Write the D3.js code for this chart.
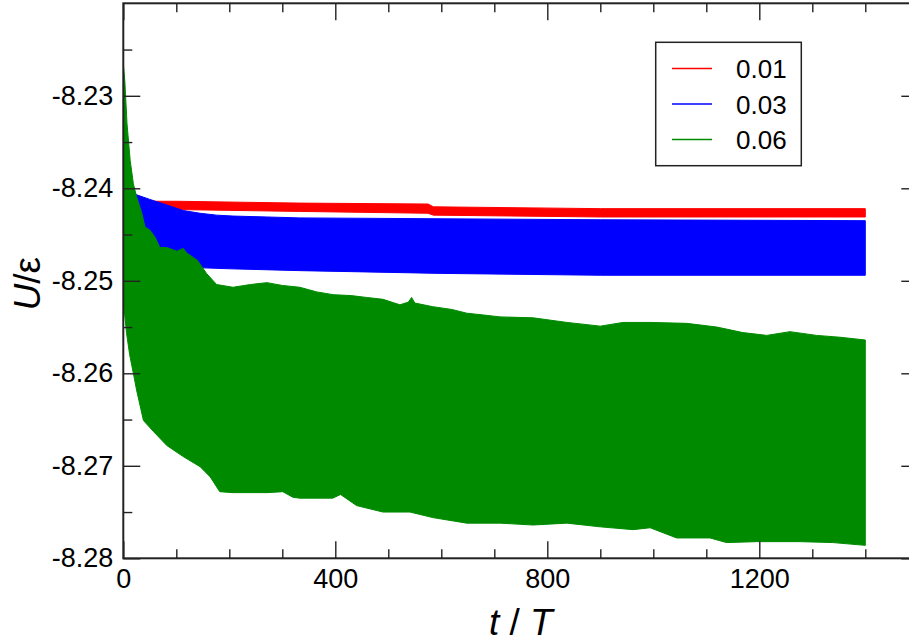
<!DOCTYPE html>
<html>
<head>
<meta charset="utf-8">
<script src="https://cdn.jsdelivr.net/npm/d3@7"></script>
<style>
  html, body { margin: 0; padding: 0; background: #fff; }
  svg { display: block; }
</style>
</head>
<body>
<svg id="chart" width="909" height="644"></svg>
<script>
// ---------------- data ----------------
const seriesNames = ["0.01", "0.03", "0.06"];
const seriesColors = ["#ff0000", "#0000ff", "#008a00"];

// x tick labels / y tick labels
const xMajorTicks = [0, 400, 800, 1200];
const xMinorTicks = [100, 200, 300, 500, 600, 700, 900, 1000, 1100, 1300, 1400];
const yMajorTicks = [-8.28, -8.27, -8.26, -8.25, -8.24, -8.23];
const yMinorTicks = [-8.275, -8.265, -8.255, -8.245, -8.235, -8.225];

// 0.01 : upper / lower envelope of the oscillating energy
const redUpperT = [40, 100, 333, 575, 585, 900, 1400];
const redUpperU = [-8.2414, -8.2414, -8.2416, -8.2417, -8.2420, -8.2422, -8.2422];
const redLowerT = [40, 100, 333, 575, 585, 900, 1400];
const redLowerU = [-8.2422, -8.2423, -8.2425, -8.2427, -8.2429, -8.2431, -8.2431];

// 0.03
const blueUpperT = [22, 25, 50, 82, 113, 145, 176, 207, 271, 333, 900, 1400];
const blueUpperU = [-8.2405, -8.2407, -8.2412, -8.2418, -8.2424, -8.2427, -8.2429, -8.2430, -8.2431, -8.2432, -8.2434, -8.2435];
const blueLowerT = [22, 40, 60, 100, 150, 200, 333, 600, 900, 1400];
const blueLowerU = [-8.2420, -8.2455, -8.2472, -8.2481, -8.2486, -8.2487, -8.2489, -8.2492, -8.2494, -8.2494];

// 0.06
const greenUpperT = [0, 3, 7, 13, 19, 25, 35, 41, 50, 60, 69, 82, 101, 113, 120, 140, 157, 176, 207, 240, 271, 300, 333, 365, 396, 430, 459, 490, 522, 538, 544, 550, 584, 620, 648, 680, 711, 773, 837, 900, 943, 994, 1063, 1120, 1169, 1214, 1258, 1308, 1352, 1400];
const greenUpperU = [-8.2265, -8.2285, -8.2330, -8.2370, -8.2395, -8.2409, -8.2427, -8.2442, -8.2445, -8.2453, -8.2464, -8.2464, -8.2468, -8.2465, -8.2470, -8.2478, -8.2492, -8.2504, -8.2507, -8.2504, -8.2502, -8.2505, -8.2507, -8.2512, -8.2515, -8.2516, -8.2518, -8.2520, -8.2526, -8.2523, -8.2518, -8.2524, -8.2528, -8.2531, -8.2535, -8.2537, -8.2539, -8.2540, -8.2545, -8.2549, -8.2545, -8.2545, -8.2546, -8.2550, -8.2556, -8.2559, -8.2555, -8.2559, -8.2561, -8.2564];
const greenLowerT = [0, 6, 12, 19, 25, 38, 57, 82, 113, 145, 164, 182, 207, 271, 301, 320, 333, 395, 410, 425, 440, 490, 541, 584, 648, 711, 773, 837, 900, 962, 994, 1044, 1107, 1138, 1195, 1277, 1339, 1400];
const greenLowerU = [-8.2521, -8.2556, -8.2580, -8.2600, -8.2618, -8.2651, -8.2663, -8.2678, -8.2690, -8.2701, -8.2712, -8.2728, -8.2729, -8.2729, -8.2728, -8.2734, -8.2735, -8.2735, -8.2731, -8.2737, -8.2743, -8.2750, -8.2750, -8.2756, -8.2762, -8.2762, -8.2764, -8.2762, -8.2766, -8.2769, -8.2767, -8.2778, -8.2778, -8.2783, -8.2782, -8.2782, -8.2783, -8.2786];

// ---------------- font ----------------
const FONT = `"Liberation Sans", Arial, sans-serif`;

// ---------------- chart ----------------
const svg = d3.select("#chart");
const x = d3.scaleLinear().domain([0, 1500]).range([123.3, 918.3]);
const y = d3.scaleLinear().domain([-8.28, -8.22]).range([558.3, 3.3]);

svg.append("defs").append("clipPath").attr("id", "plotclip")
  .append("rect").attr("x", x(0)).attr("y", y(-8.22))
  .attr("width", x(1500) - x(0)).attr("height", y(-8.28) - y(-8.22));

const zip = (ts, us) => ts.map((t, i) => [t, us[i]]);
const bands = [
  { upper: zip(redUpperT, redUpperU), lower: zip(redLowerT, redLowerU) },
  { upper: zip(blueUpperT, blueUpperU), lower: zip(blueLowerT, blueLowerU) },
  { upper: zip(greenUpperT, greenUpperU), lower: zip(greenLowerT, greenLowerU) }
];

const line = d3.line().x(d => x(d[0])).y(d => y(d[1]));
const plot = svg.append("g").attr("clip-path", "url(#plotclip)");
bands.forEach((b, i) => {
  const pts = b.upper.concat(b.lower.slice().reverse());
  plot.append("path")
    .attr("d", line(pts) + "Z")
    .attr("fill", seriesColors[i])
    .attr("stroke", seriesColors[i])
    .attr("stroke-width", 1);
});

// axes
const tickColor = "#222";
function styleAxis(g) {
  g.select(".domain").remove();
  g.selectAll(".tick line").attr("stroke", tickColor).attr("stroke-width", 1.4);
}
const fmt = d => d.toFixed(2);

const gB = svg.append("g").attr("transform", `translate(0,${y(-8.28)})`)
  .call(d3.axisBottom(x).tickValues(xMajorTicks).tickSize(-17).tickPadding(11).tickFormat(d3.format("d")));
styleAxis(gB);
gB.selectAll(".tick text").attr("font-size", 27).attr("font-family", FONT).attr("fill", "#000");

svg.append("g").attr("transform", `translate(0,${y(-8.28)})`)
  .call(d3.axisBottom(x).tickValues(xMinorTicks).tickSize(-9).tickFormat(""))
  .call(styleAxis);

svg.append("g").attr("transform", `translate(0,${y(-8.22)})`)
  .call(d3.axisTop(x).tickValues(xMajorTicks).tickSize(-17).tickFormat(""))
  .call(styleAxis);
svg.append("g").attr("transform", `translate(0,${y(-8.22)})`)
  .call(d3.axisTop(x).tickValues(xMinorTicks).tickSize(-9).tickFormat(""))
  .call(styleAxis);

const gL = svg.append("g").attr("transform", `translate(${x(0)},0)`)
  .call(d3.axisLeft(y).tickValues(yMajorTicks).tickSize(-17).tickPadding(10).tickFormat(fmt));
styleAxis(gL);
gL.selectAll(".tick text").attr("font-size", 27).attr("font-family", FONT).attr("fill", "#000");
svg.append("g").attr("transform", `translate(${x(0)},0)`)
  .call(d3.axisLeft(y).tickValues(yMinorTicks).tickSize(-9).tickFormat(""))
  .call(styleAxis);

svg.append("g").attr("transform", `translate(${x(1500)},0)`)
  .call(d3.axisRight(y).tickValues(yMajorTicks).tickSize(-17).tickFormat(""))
  .call(styleAxis);
svg.append("g").attr("transform", `translate(${x(1500)},0)`)
  .call(d3.axisRight(y).tickValues(yMinorTicks).tickSize(-9).tickFormat(""))
  .call(styleAxis);

// frame
svg.append("rect")
  .attr("x", x(0)).attr("y", y(-8.22))
  .attr("width", x(1500) - x(0)).attr("height", y(-8.28) - y(-8.22))
  .attr("fill", "none").attr("stroke", tickColor).attr("stroke-width", 2);

// axis titles
const xt = svg.append("text")
  .attr("x", (x(0) + x(1500)) / 2).attr("y", 635)
  .attr("text-anchor", "middle").attr("font-size", 37).attr("font-family", FONT);
xt.append("tspan").attr("font-style", "italic").text("t");
xt.append("tspan").text(" / ");
xt.append("tspan").attr("font-style", "italic").text("T");

const yt = svg.append("text")
  .attr("transform", `translate(40,${(y(-8.28) + y(-8.22)) / 2 + 3}) rotate(-90)`)
  .attr("text-anchor", "middle").attr("font-size", 37).attr("font-family", FONT);
yt.append("tspan").attr("font-style", "italic").text("U");
yt.append("tspan").text("/");
yt.append("tspan").text("ε");

// legend
const lg = svg.append("g");
lg.append("rect").attr("x", 655.7).attr("y", 42.3).attr("width", 145.6).attr("height", 123.4)
  .attr("fill", "#fff").attr("stroke", tickColor).attr("stroke-width", 1.5);
seriesNames.forEach((name, i) => {
  const yy = 68.5 + i * 35.5;
  lg.append("line").attr("x1", 672).attr("x2", 712).attr("y1", yy).attr("y2", yy)
    .attr("stroke", seriesColors[i]).attr("stroke-width", 1.3);
  lg.append("text").attr("x", 736).attr("y", yy + 9.5).attr("font-size", 26).attr("font-family", FONT).text(name);
});
</script>
</body>
</html>
